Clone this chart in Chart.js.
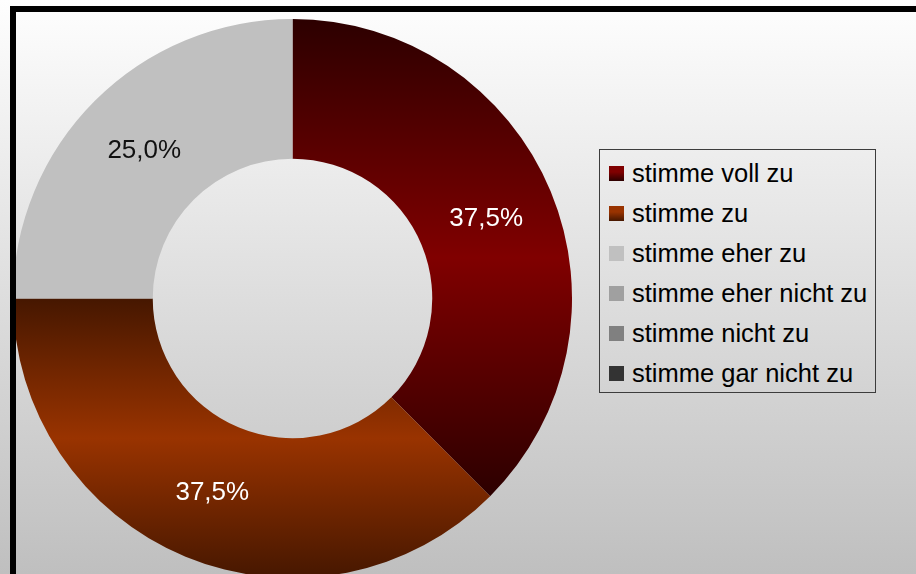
<!DOCTYPE html>
<html lang="de">
<head>
<meta charset="utf-8">
<title>Zustimmung</title>
<script src="https://cdn.jsdelivr.net/npm/chart.js@4.4.1/dist/chart.umd.min.js"></script>
<style>
  html, body {
    margin: 0;
    padding: 0;
  }
  body {
    position: relative;
    width: 916px;
    height: 574px;
    overflow: hidden;
    background: linear-gradient(to bottom, #fefefe 0%, #bfbfbf 100%);
    font-family: "Liberation Sans", Arial, sans-serif;
  }
  .frame {
    position: absolute;
    left: 10px;
    top: 6px;
    width: 940px;
    height: 600px;
    border-top: 6px solid #000;
    border-left: 6px solid #000;
    z-index: 2;
    pointer-events: none;
  }
  .chart {
    position: absolute;
    left: 13px;
    top: 19px;
    width: 559px;
    height: 559px;
  }
  .legend {
    position: absolute;
    left: 599px;
    top: 149px;
    width: 275px;
    height: 239px;
    border: 1px solid #3c3c3c;
    box-sizing: content-box;
    padding-top: 3px;
  }
  .legend__item {
    display: flex;
    align-items: center;
    height: 40px;
    font-size: 25.5px;
    color: #000;
    white-space: nowrap;
  }
  .legend__swatch {
    width: 15px;
    height: 15px;
    margin-left: 9px;
    margin-right: 8px;
    flex: none;
  }
</style>
</head>
<body>
<div class="frame"></div>
<div class="chart"><canvas id="donut" width="559" height="559"></canvas></div>
<div class="legend"></div>

<script>
const categories = [
  'stimme voll zu',
  'stimme zu',
  'stimme eher zu',
  'stimme eher nicht zu',
  'stimme nicht zu',
  'stimme gar nicht zu',
]
const percents = [37.5, 37.5, 25.0, 0, 0, 0]

// [dark edge, bright centre] for the shaded slices, flat colour otherwise
const sliceColors = [
  ['#2c0000', '#800000'],
  ['#461700', '#993300'],
  '#c0c0c0',
  '#a0a0a0',
  '#808080',
  '#333333',
]
const labelColors = ['#ffffff', '#ffffff', '#111111', '#111111', '#ffffff', '#ffffff']

const CUTOUT = 0.5
const total = percents.reduce((a, b) => a + b, 0)

function sliceYRange(index, cy, outer) {
  const inner = outer * CUTOUT
  const before = percents.slice(0, index).reduce((a, b) => a + b, 0)
  const a0 = -Math.PI / 2 + (2 * Math.PI * before) / total
  const a1 = a0 + (2 * Math.PI * percents[index]) / total
  const ys = []
  for (const r of [inner, outer]) {
    for (const a of [a0, a1]) ys.push(cy + r * Math.sin(a))
  }
  for (const k of [-Math.PI / 2, Math.PI / 2, (3 * Math.PI) / 2]) {
    if (k >= a0 && k <= a1) ys.push(cy + outer * Math.sin(k))
  }
  return [Math.min(...ys), Math.max(...ys)]
}

function sliceFill(context) {
  const color = sliceColors[context.dataIndex]
  if (typeof color === 'string') return color
  const { chart } = context
  const area = chart.chartArea
  if (!area) return color[1]

  const cy = (area.top + area.bottom) / 2
  const outer = Math.min(area.width, area.height) / 2
  const [top, bottom] = sliceYRange(context.dataIndex, cy, outer)

  const gradient = chart.ctx.createLinearGradient(0, top, 0, bottom)
  gradient.addColorStop(0, color[0])
  gradient.addColorStop(0.5, color[1])
  gradient.addColorStop(1, color[0])
  return gradient
}

const sliceLabels = {
  id: 'sliceLabels',
  afterDatasetsDraw(chart) {
    const { ctx } = chart
    const meta = chart.getDatasetMeta(0)
    ctx.save()
    ctx.font = '26px "Liberation Sans", Arial, sans-serif'
    ctx.textAlign = 'center'
    ctx.textBaseline = 'middle'
    meta.data.forEach((arc, i) => {
      const value = percents[i]
      if (!value) return
      const { x, y } = arc.tooltipPosition()
      ctx.fillStyle = labelColors[i]
      ctx.fillText(value.toFixed(1).replace('.', ',') + '%', x, y + 1)
    })
    ctx.restore()
  },
}

new Chart(document.getElementById('donut'), {
  type: 'doughnut',
  data: {
    labels: categories,
    datasets: [
      {
        data: percents,
        backgroundColor: sliceFill,
        borderWidth: 0,
      },
    ],
  },
  options: {
    responsive: false,
    animation: false,
    events: [],
    cutout: CUTOUT * 100 + '%',
    layout: { padding: 0 },
    plugins: {
      legend: { display: false },
      tooltip: { enabled: false },
    },
  },
  plugins: [sliceLabels],
})

function swatchBackground(color) {
  if (typeof color === 'string') return color
  return `linear-gradient(to bottom, ${color[1]} 0%, ${color[1]} 40%, ${color[0]} 100%)`
}

const legend = document.querySelector('.legend')
categories.forEach((name, i) => {
  const item = document.createElement('div')
  item.classList.add('legend__item')

  const swatch = document.createElement('span')
  swatch.classList.add('legend__swatch')
  swatch.style.background = swatchBackground(sliceColors[i])

  const text = document.createElement('span')
  text.textContent = name

  item.append(swatch, text)
  legend.append(item)
})
</script>
</body>
</html>
